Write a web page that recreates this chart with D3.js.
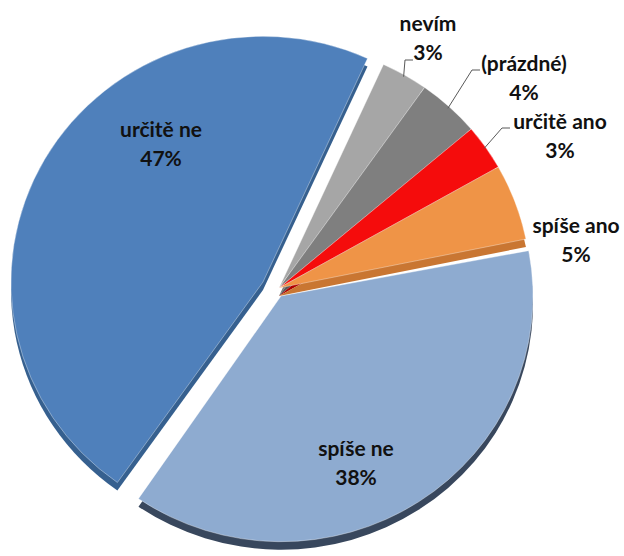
<!DOCTYPE html>
<html>
<head>
<meta charset="utf-8">
<script src="https://cdn.jsdelivr.net/npm/d3@7"></script>
<style>
  html, body { margin: 0; padding: 0; background: #fff; }
  svg { display: block; }
  .lbl { font-family: Lato, "Open Sans", sans-serif; font-weight: 700; font-size: 21px; fill: #111; }
</style>
</head>
<body>
<svg id="chart" width="624" height="556"></svg>
<script>
// Survey answers, share of respondents (%)
const categories = ["nevím", "(prázdné)", "určitě ano", "spíše ano", "spíše ne", "určitě ne"];
const values = [3, 4, 3, 5, 38, 47];
const valueLabels = ["3%", "4%", "3%", "5%", "38%", "47%"];

// Slice styling
const topColors = {
  "nevím": "#a6a6a6",
  "(prázdné)": "#7f7f7f",
  "určitě ano": "#f50c0c",
  "spíše ano": "#ef9447",
  "spíše ne": "#8eabd0",
  "určitě ne": "#4f80bb"
};
const sideColors = {
  "nevím": "#7a7a7a",
  "(prázdné)": "#5a5a5a",
  "určitě ano": "#b00000",
  "spíše ano": "#c97632",
  "spíše ne": "#38475d",
  "určitě ne": "#36608f"
};
// pulled-out slices: screen offset of the slice tip, plus a small gap angle
const explode = { "určitě ne": [-16, -6], "spíše ne": [2, 8] };
const gapAngle = { "spíše ne": 0.03 };
// paint order, back to front
const paintOrder = ["určitě ne", "spíše ne", "nevím", "(prázdné)", "určitě ano", "spíše ano"];

const svg = d3.select("#chart");
const cx = 279, cy = 288, R = 252, tilt = 0.975, depth = 8;
const start = 24.5 * Math.PI / 180;

const pie = d3.pie().sort(null).value(d => d.v)
  .startAngle(start).endAngle(start + 2 * Math.PI);
const data = categories.map((c, i) => ({ c, v: values[i], t: valueLabels[i] }));
const arcs = pie(data);
arcs.forEach(a => { a.padAngle = gapAngle[a.data.c] || 0; });
const arc = d3.arc().innerRadius(0).outerRadius(R);

function offset(a) {
  const e = explode[a.data.c] || [0, 0];
  return [cx + e[0], cy + e[1]];
}

// each exploded slice is drawn alone, the remaining slices as one block
const blocks = [["určitě ne"], ["spíše ne"], ["nevím", "(prázdné)", "určitě ano", "spíše ano"]];
blocks.forEach(names => {
  const sel = arcs.filter(a => names.includes(a.data.c))
    .sort((p, q) => paintOrder.indexOf(p.data.c) - paintOrder.indexOf(q.data.c));
  const g = svg.append("g");
  // extruded side
  g.append("g").selectAll("path").data(sel).join("path")
    .attr("transform", a => { const [x, y] = offset(a); return `translate(${x},${y + depth}) scale(1,${tilt})`; })
    .attr("d", arc)
    .attr("fill", a => sideColors[a.data.c]);
  // top face
  g.append("g").selectAll("path").data(sel).join("path")
    .attr("transform", a => { const [x, y] = offset(a); return `translate(${x},${y}) scale(1,${tilt})`; })
    .attr("d", arc)
    .attr("fill", a => topColors[a.data.c])
    .attr("stroke", "#ffffff")
    .attr("stroke-opacity", 0.45)
    .attr("stroke-width", 0.8)
    .attr("vector-effect", "non-scaling-stroke");
});

// label placement: centre x, first baseline, optional leader anchor
const labelLayout = {
  "nevím":      { x: 428, y: 31,  lead: [413, 60] },
  "(prázdné)":  { x: 524, y: 71,  lead: [480, 70] },
  "určitě ano": { x: 560, y: 129, lead: [510, 128] },
  "spíše ano":  { x: 576, y: 233 },
  "spíše ne":   { x: 356, y: 456 },
  "určitě ne":  { x: 161, y: 137 }
};
const lineGap = 29;

const lg = svg.append("g");
arcs.forEach(a => {
  const L = labelLayout[a.data.c];
  if (L.lead) {
    const m = (a.startAngle + a.endAngle) / 2;
    const [ox, oy] = offset(a);
    const ex = ox + (R - 2) * Math.sin(m), ey = oy - (R - 2) * tilt * Math.cos(m);
    lg.append("path")
      .attr("d", `M${L.lead[0]},${L.lead[1]}H${L.lead[0] - 8}L${ex},${ey}`)
      .attr("fill", "none").attr("stroke", "#595959").attr("stroke-width", 1);
  }
  const t = lg.append("text").attr("class", "lbl").attr("text-anchor", "middle");
  t.append("tspan").attr("x", L.x).attr("y", L.y).text(a.data.c);
  t.append("tspan").attr("x", L.x).attr("y", L.y + lineGap).text(a.data.t);
});
</script>
</body>
</html>
